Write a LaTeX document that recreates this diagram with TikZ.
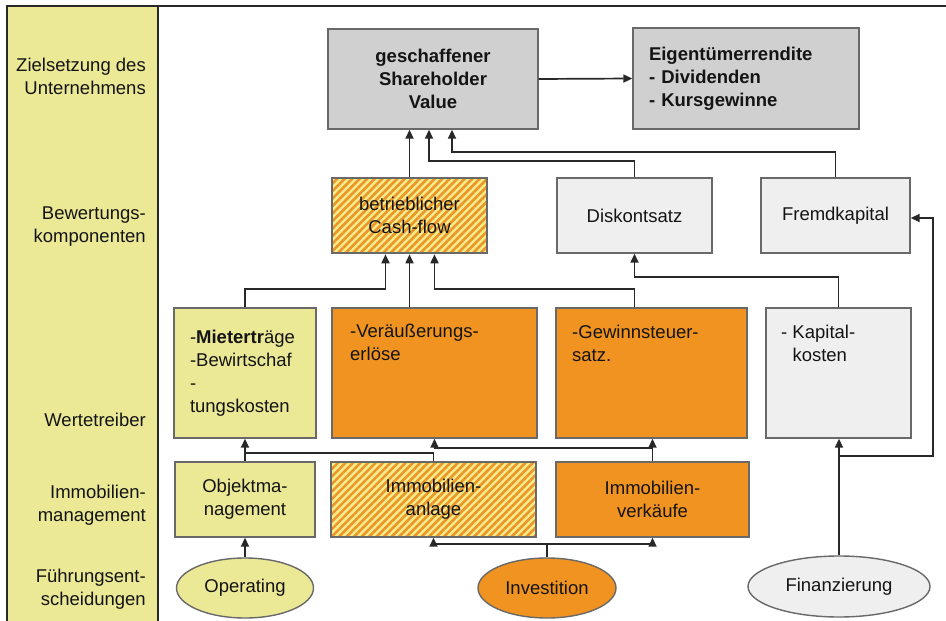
\documentclass[tikz,border=0pt]{standalone}
\usepackage{fontspec}
\setmainfont{Liberation Sans}
\usetikzlibrary{arrows.meta,shapes.geometric,patterns.meta,calc}
\definecolor{ylw}{RGB}{236,233,150}
\definecolor{org}{RGB}{240,147,32}
\definecolor{gdark}{RGB}{208,208,208}
\definecolor{glight}{RGB}{239,239,239}
\definecolor{bord}{RGB}{105,105,105}
\definecolor{hy}{RGB}{246,236,140}
\definecolor{ho}{RGB}{234,150,40}
\definecolor{ln}{RGB}{40,40,40}
\definecolor{tx}{RGB}{20,20,20}
\begin{document}
\begin{tikzpicture}[x=1pt,y=-1pt,
  txt/.style={font=\fontsize{18.5}{23}\selectfont, text=tx},
  bftxt/.style={font=\fontsize{18.5}{23}\selectfont\bfseries, text=tx},
  box/.style={draw=bord, line width=1.4pt, inner sep=0pt, txt, align=center},
  hatchbox/.style={box, preaction={fill=hy}, pattern={Lines[angle=45,distance=5.3pt,line width=2.6pt]}, pattern color=ho},
  oval/.style={ellipse, draw=bord, line width=1.4pt, inner sep=0pt, txt},
  lbl/.style={txt, anchor=east, align=right, inner sep=0pt},
  conn/.style={draw=ln, line width=1.7pt},
  arr/.style={conn, -{Triangle[length=9pt,width=8pt]}}
]
\useasboundingbox (0,0) rectangle (946,621);
% left column and frame
\fill[ylw] (7,6) rectangle (158,621);
\draw[ln, line width=1.8pt] (158,6) -- (158,621);
\draw[ln, line width=2pt] (7,6) -- (7,621);
\draw[ln, line width=2.5pt] (6,6) -- (946,6);

% row labels
\node[lbl] (L1) at (146,76) {Zielsetzung des\\Unternehmens};
\node[lbl] (L2) at (146,227) {Bewertungs-\\komponenten};
\node[lbl] (L3) at (146,420) {Wertetreiber};
\node[lbl] (L4) at (146,505) {Immobilien-\\management};
\node[lbl] (L5) at (146,589) {Führungsent-\\scheidungen};

% top row
\node[box, bftxt, fill=gdark, minimum width=210, minimum height=100] (SV) at (433,79) {geschaffener\\Shareholder\\Value};
\node[box, bftxt, fill=gdark, minimum width=226, minimum height=101, text width=194pt, align=left] (ER) at (746,78.5) {Eigentümerrendite\\- Dividenden\\- Kursgewinne};

% Bewertungskomponenten
\node[hatchbox, minimum width=155, minimum height=75] (CF) at (409.5,215.5) {betrieblicher\\Cash-flow};
\node[box, fill=glight, minimum width=155, minimum height=75] (Disk) at (634.5,215.5) {Diskontsatz};
\node[box, fill=glight, minimum width=149, minimum height=75] (Fremd) at (835.5,215.5) {Fremdkapital};

% Wertetreiber
\node[box, fill=ylw, minimum width=142, minimum height=130, text width=110pt, align=left] (Miet) at (245,373) {-\textbf{Mietertr}äge\\-Bewirtschaf\\-\\tungskosten};
\node[box, fill=org, minimum width=205, minimum height=130] (Ver) at (434.5,373) {};
\node[txt, anchor=north west, align=left, inner sep=0pt] (Vert) at (350,324) {-Veräußerungs-\\erlöse};
\node[box, fill=org, minimum width=191, minimum height=130] (Gew) at (651.5,373) {};
\node[txt, anchor=north west, align=left, inner sep=0pt] (Gewt) at (572,325) {-Gewinnsteuer-\\satz.};
\node[box, fill=glight, minimum width=145, minimum height=130] (Kap) at (838.5,373) {};
\node[txt, anchor=north west, align=left, inner sep=0pt] (Kapt) at (781,325) {- Kapital-\\\phantom{- }kosten};

% Immobilienmanagement
\node[box, fill=ylw, minimum width=140, minimum height=75] (Obj) at (245,499.5) {Objektma-\\nagement};
\node[hatchbox, minimum width=205, minimum height=75] (Anl) at (433.5,499.5) {Immobilien-\\anlage};
\node[box, fill=org, minimum width=193, minimum height=75] (Verk) at (652.5,499.5) {Immobilien-\\verkäufe};

% Fuehrungsentscheidungen
\node[oval, fill=ylw, minimum width=137, minimum height=60] (Oper) at (245,588) {Operating};
\node[oval, fill=org, minimum width=138, minimum height=60] (Inv) at (547,588) {Investition};
\node[oval, fill=glight, minimum width=182, minimum height=61] (Fin) at (839,586.5) {Finanzierung};

% connectors
\draw[arr] (SV.east) -- (ER.west);
\draw[arr] (CF.north) -- (CF.north |- SV.south);
\draw[arr] (Disk.north) -- ++(0,-16) -| ([xshift=-4pt]SV.south);
\draw[arr] (Fremd.north) -- ++(0,-25) -| ([xshift=19pt]SV.south);
\draw[arr] (Miet.north) -- ++(0,-18) -| ([xshift=-24pt]CF.south);
\draw[arr] (CF.south |- Ver.north) -- (CF.south);
\draw[arr] ([xshift=-17pt]Gew.north) -- ++(0,-18) -| ([xshift=25pt]CF.south);
\draw[arr] (Kap.north) -- ++(0,-30) -| (Disk.south);
\draw[arr] (Obj.north) -- (Miet.south);
\draw[conn] (Anl.north) -- ++(0,-8) -| (Obj.north);
\draw[arr] (Verk.north) -- (Verk.north |- Gew.south);
\draw[arr] (Verk.north) -- ++(0,-13) -| (Ver.south);
\draw[arr] (Oper.north) -- (Obj.south);
\draw[arr] (Inv.north) -- ++(0,-13) -| (Anl.south);
\draw[arr] (Inv.north) -- ++(0,-13) -| (Verk.south);
\draw[arr] (Fin.north) -- (Fin.north |- Kap.south);
\draw[arr] (Fin.north) -- ++(0,-99) -- ++(94,0) |- ([yshift=-2.5pt]Fremd.east);
\end{tikzpicture}
\end{document}
